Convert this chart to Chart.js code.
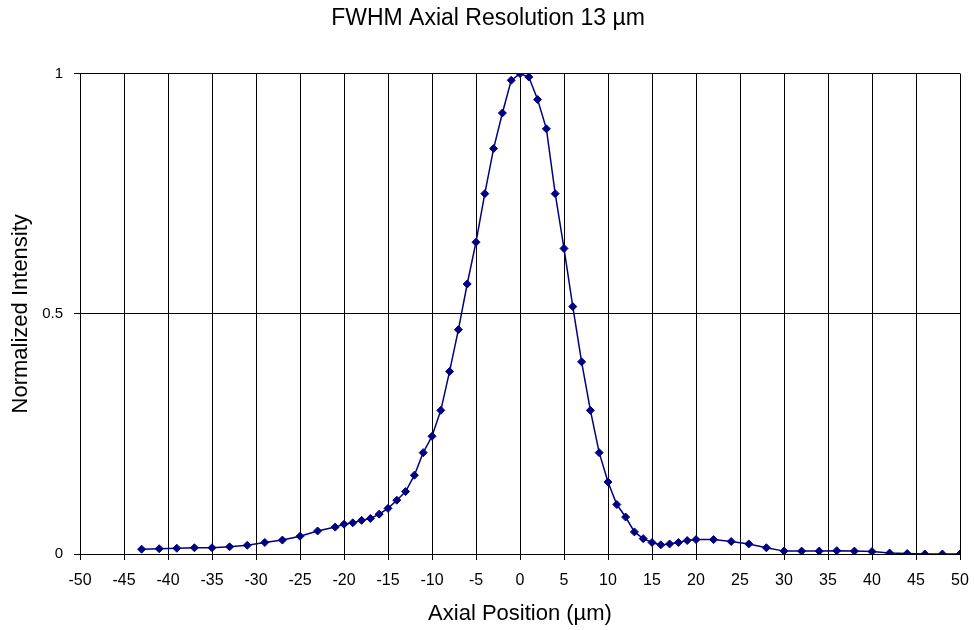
<!DOCTYPE html>
<html>
<head>
<meta charset="utf-8">
<script src="https://cdn.jsdelivr.net/npm/chart.js@4/dist/chart.umd.min.js"></script>
<style>
  html, body { margin: 0; padding: 0; background: #ffffff; }
  #wrap { width: 974px; height: 630px; }
</style>
</head>
<body>
<div id="wrap"><canvas id="c" width="974" height="630"></canvas></div>
<script>
const chartTitle = 'FWHM Axial Resolution 13 µm';
const xAxisTitle = 'Axial Position (µm)';
const yAxisTitle = 'Normalized Intensity';

const positions = [-43,-41,-39,-37,-35,-33,-31,-29,-27,-25,-23,-21,
  -20,-19,-18,-17,-16,-15,-14,-13,-12,-11,-10,-9,-8,-7,-6,-5,-4,-3,-2,-1,
  0,1,2,3,4,5,6,7,8,9,10,11,12,13,14,15,16,17,18,19,20,
  22,24,26,28,30,32,34,36,38,40,42,44,46,48,50];
const intensity = [0.010,0.011,0.012,0.013,0.013,0.015,0.018,0.024,0.029,0.037,0.048,0.056,
  0.062,0.065,0.070,0.074,0.083,0.095,0.112,0.130,0.164,0.211,0.245,0.299,0.380,0.467,0.562,0.649,0.750,0.844,0.918,0.986,
  1.000,0.993,0.946,0.885,0.750,0.636,0.515,0.400,0.299,0.211,0.150,0.103,0.077,0.046,0.032,0.024,0.019,0.021,0.024,0.028,0.030,
  0.030,0.026,0.021,0.013,0.006,0.006,0.006,0.007,0.006,0.005,0.002,0.001,0,0,0];

const xMin = -50, xMax = 50, xStep = 5;
const yMin = 0, yMax = 1, yStep = 0.5;
const yTickLabels = { 0: '0', 0.5: '0.5', 1: '1' };

const points = positions.map((x, i) => ({ x: x, y: intensity[i] }));
const FONT = '"Liberation Sans", Arial, sans-serif';

// shift the title block slightly right so it is centred like the original
const titleShift = {
  id: 'titleShift',
  afterLayout(chart) {
    if (chart.titleBlock) {
      chart.titleBlock.left = 16;
    }
  }
};

new Chart(document.getElementById('c'), {
  type: 'scatter',
  data: {
    datasets: [{
      data: points,
      showLine: true,
      borderColor: '#000080',
      backgroundColor: '#000080',
      borderWidth: 1.5,
      pointStyle: 'rectRot',
      pointRadius: 4,
      pointHoverRadius: 4,
      pointBorderWidth: 1,
      tension: 0
    }]
  },
  plugins: [titleShift],
  options: {
    responsive: false,
    animation: false,
    devicePixelRatio: 1,
    layout: { padding: { left: 0, right: 14, top: 0, bottom: 0 } },
    plugins: {
      legend: { display: false },
      tooltip: { enabled: false },
      title: {
        display: true,
        text: chartTitle,
        color: '#000',
        font: { family: FONT, size: 23, weight: 'normal' },
        padding: { top: 5, bottom: 41 }
      }
    },
    scales: {
      x: {
        type: 'linear',
        min: xMin, max: xMax,
        afterFit: (s) => { s.height = 76; s.paddingLeft = 0; s.paddingRight = 0; },
        ticks: {
          stepSize: xStep,
          color: '#000',
          font: { family: FONT, size: 16 },
          padding: 11,
          maxRotation: 0,
          autoSkip: false
        },
        grid: { color: '#000', lineWidth: 1, tickLength: 6, tickColor: '#000' },
        border: { color: '#000', width: 1 },
        title: {
          display: true,
          text: xAxisTitle,
          color: '#000',
          font: { family: FONT, size: 22 },
          padding: { top: 0, bottom: 3 }
        }
      },
      y: {
        type: 'linear',
        min: yMin, max: yMax,
        afterFit: (s) => { s.width = 80; },
        ticks: {
          stepSize: yStep,
          color: '#000',
          font: { family: FONT, size: 15 },
          padding: 11,
          callback: (v) => (yTickLabels[v] !== undefined ? yTickLabels[v] : '')
        },
        grid: { color: '#000', lineWidth: 1, tickLength: 6, tickColor: '#000' },
        border: { color: '#000', width: 1 },
        title: {
          display: true,
          text: yAxisTitle,
          color: '#000',
          font: { family: FONT, size: 22 },
          padding: { top: 8, bottom: 0 }
        }
      }
    }
  }
});
</script>
</body>
</html>
